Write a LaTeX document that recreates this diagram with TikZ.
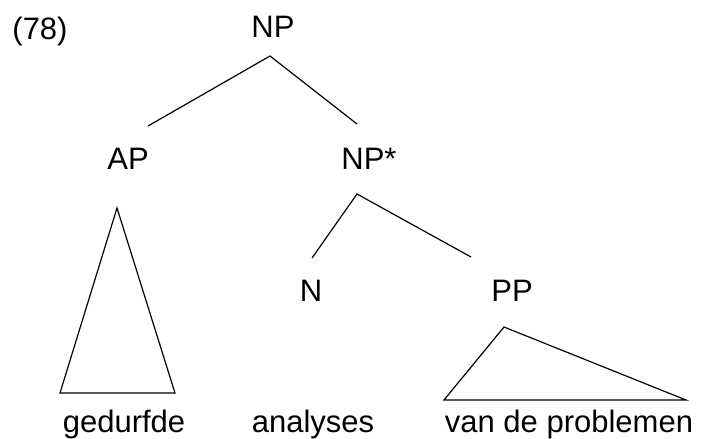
\documentclass[tikz,border=0pt]{standalone}
\usepackage{fontspec}
\setmainfont{Liberation Sans}
\begin{document}
\begin{tikzpicture}[x=1pt,y=-1pt,
  lbl/.style={anchor=base,inner sep=0pt,font=\fontsize{31}{37}\selectfont},
  branch/.style={line width=1.2pt,line join=miter},
  roof/.style={line width=1.2pt,line join=miter}]
\useasboundingbox (0,0) rectangle (702,439);

% labels
\node[lbl] (ex)   at (40,39)   {(78)};
\node[lbl] (np)   at (273,37)  {NP};
\node[lbl] (ap)   at (128,169) {AP};
\node[lbl] (nps)  at (369,169) {NP*};
\node[lbl] (n)    at (311,301) {N};
\node[lbl] (pp)   at (512,301) {PP};
\node[lbl] (w1)   at (124,432) {gedurfde};
\node[lbl] (w2)   at (313,432) {analyses};
\node[lbl] (w3)   at (569,432) {van de problemen};

% branch end points
\coordinate (np-b)  at (270,56);
\coordinate (ap-t)  at (148,126);
\coordinate (nps-t) at (357,124);
\coordinate (nps-b) at (357,194);
\coordinate (n-t)   at (312,258);
\coordinate (pp-t)  at (471,257);

\draw[branch] (ap-t) -- (np-b) -- (nps-t);
\draw[branch] (n-t) -- (nps-b) -- (pp-t);

% triangles over the terminal strings
\coordinate (ap-apex) at (117,208);
\coordinate (ap-l)    at (60,393);
\coordinate (ap-r)    at (175,393);
\draw[roof] (ap-apex) -- (ap-l) -- (ap-r) -- cycle;

\coordinate (pp-apex) at (504,327);
\coordinate (pp-l)    at (444,400);
\coordinate (pp-r)    at (686,400);
\draw[roof] (pp-apex) -- (pp-l) -- (pp-r) -- cycle;
\end{tikzpicture}
\end{document}
